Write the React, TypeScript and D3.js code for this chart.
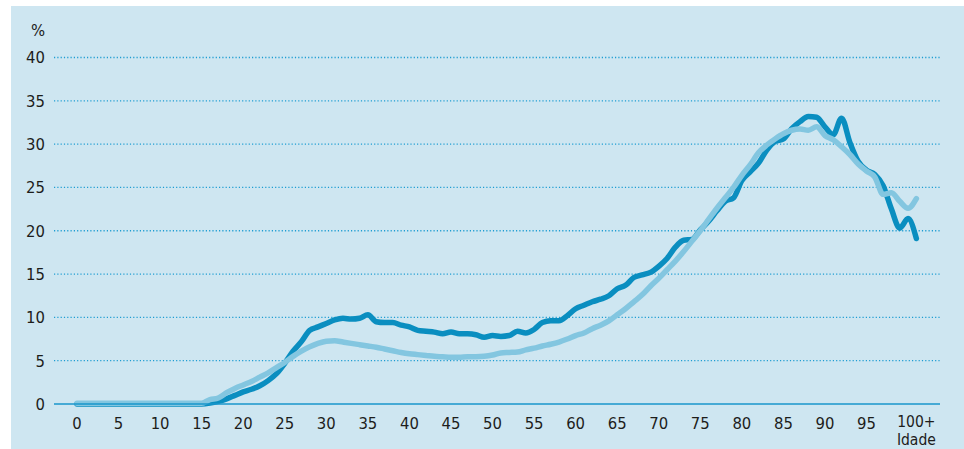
import React from "react";
import * as d3 from "d3";

// ages 0..100; the open "100+" class sits where its label is (101)
const ages = d3.range(0, 102);

const seriesDark = [
  0, 0, 0, 0, 0, 0, 0, 0, 0, 0,
  0, 0, 0, 0, 0, 0, 0.1, 0.3, 0.6, 1.0,
  1.4, 1.7, 2.1, 2.7, 3.5, 4.7, 6.1, 7.2, 8.5, 8.9,
  9.3, 9.7, 9.9, 9.8, 9.9, 10.3, 9.5, 9.4, 9.4, 9.1,
  8.9, 8.5, 8.4, 8.3, 8.1, 8.3, 8.1, 8.1, 8.0, 7.7,
  7.9, 7.8, 7.9, 8.4, 8.2, 8.6, 9.4, 9.6, 9.6, 10.2,
  11.0, 11.4, 11.8, 12.1, 12.5, 13.3, 13.7, 14.6, 14.9, 15.2,
  15.9, 16.8, 18.1, 18.9, 19.0, 20.1, 21.1, 22.3, 23.4, 23.8,
  25.8, 26.8, 27.8, 29.3, 30.3, 30.6, 31.8, 32.6, 33.2, 33.1,
  32.0, 31.1, 33.0, 30.2, 28.0, 27.0, 26.5, 25.2, 22.5, 20.3,
  21.4, 19.1,
];

const seriesLight = [
  0.1, 0.1, 0.1, 0.1, 0.1, 0.1, 0.1, 0.1, 0.1, 0.1,
  0.1, 0.1, 0.1, 0.1, 0.1, 0.1, 0.5, 0.7, 1.3, 1.8,
  2.2, 2.6, 3.1, 3.6, 4.2, 4.8, 5.5, 6.1, 6.6, 7.0,
  7.25, 7.3, 7.15, 7.0, 6.85, 6.7, 6.55, 6.35, 6.15, 5.95,
  5.8, 5.7, 5.6, 5.5, 5.45, 5.4, 5.4, 5.45, 5.45, 5.5,
  5.65, 5.9, 5.95, 6.0, 6.25, 6.45, 6.7, 6.9, 7.15, 7.5,
  7.9, 8.2, 8.7, 9.1, 9.6, 10.3, 11.0, 11.8, 12.6, 13.6,
  14.5, 15.5, 16.5, 17.6, 18.8, 20.0, 21.3, 22.6, 23.8, 25.0,
  26.4, 27.6, 29.0, 29.9, 30.6, 31.2, 31.6, 31.75, 31.6, 32.0,
  31.0, 30.5, 29.7, 28.8, 27.7, 26.9, 26.2, 24.2, 24.4, 23.4,
  22.6, 23.7,
];

const xTicks = [0, 5, 10, 15, 20, 25, 30, 35, 40, 45, 50, 55, 60, 65, 70, 75, 80, 85, 90, 95];
const lastTickLabel = "100+";
const lastTickAge = 101;
const axisTitleX = "Idade";
const yTicks = [0, 5, 10, 15, 20, 25, 30, 35, 40];
const axisTitleY = "%";

const W = 964;
const H = 449;
const font = "'Liberation Sans Narrow', 'DejaVu Sans Condensed', 'Roboto Condensed', 'Liberation Sans', sans-serif";
const fs = 16.5;
const fsSmall = 15.5;
const ink = "#1d1d1b";

export default function App() {
  const x = d3.scaleLinear().domain([0, 95]).range([77, 866.5]);
  const y = d3.scaleLinear().domain([0, 40]).range([404, 57.5]);

  const line = d3
    .line<number>()
    .x((_, i) => x(ages[i]))
    .y((d) => y(d))
    .curve(d3.curveMonotoneX);

  const gridLeft = 54;
  const gridRight = 940;

  return (
    <div style={{ position: "fixed", left: 0, top: 0 }}>
      <svg width={W} height={H} style={{ display: "block" }} fontFamily={font}>
        <rect x={0} y={0} width={W} height={H} fill="#ffffff" />
        <rect x={11} y={6} width={W - 11} height={H - 6} fill="#cee6f1" />

        {/* gridlines */}
        {yTicks.filter((t) => t > 0).map((t) => (
          <line
            key={"g" + t}
            x1={gridLeft}
            x2={gridRight}
            y1={y(t)}
            y2={y(t)}
            stroke="#1e9dd2"
            strokeWidth={1.3}
            strokeDasharray="1.2 2.1"
          />
        ))}

        {/* y labels */}
        {yTicks.map((t) => (
          <text key={"y" + t} x={45} y={y(t)} dy="0.36em" textAnchor="end" fontSize={fs} fill={ink}>
            {t}
          </text>
        ))}
        <text x={45} y={36} textAnchor="end" fontSize={fs} fill={ink}>
          {axisTitleY}
        </text>

        {/* x labels */}
        {xTicks.map((t) => (
          <text key={"x" + t} x={x(t)} y={428.5} textAnchor="middle" fontSize={fs} fill={ink}>
            {t}
          </text>
        ))}
        <text x={x(lastTickAge)} y={426.5} textAnchor="middle" fontSize={fsSmall} fill={ink}>
          {lastTickLabel}
        </text>
        <text x={x(lastTickAge)} y={444.5} textAnchor="middle" fontSize={fsSmall} fill={ink}>
          {axisTitleX}
        </text>

        {/* series */}
        <path
          d={line(seriesDark) || ""}
          fill="none"
          stroke="#0a8ec0"
          strokeWidth={5.5}
          strokeLinejoin="round"
          strokeLinecap="round"
        />
        <path
          d={line(seriesLight) || ""}
          fill="none"
          stroke="#83c6e0"
          strokeWidth={5.5}
          strokeLinejoin="round"
          strokeLinecap="round"
        />

        {/* baseline */}
        <line x1={gridLeft} x2={gridRight} y1={y(0)} y2={y(0)} stroke="#1896cb" strokeWidth={1.6} />
      </svg>
    </div>
  );
}
